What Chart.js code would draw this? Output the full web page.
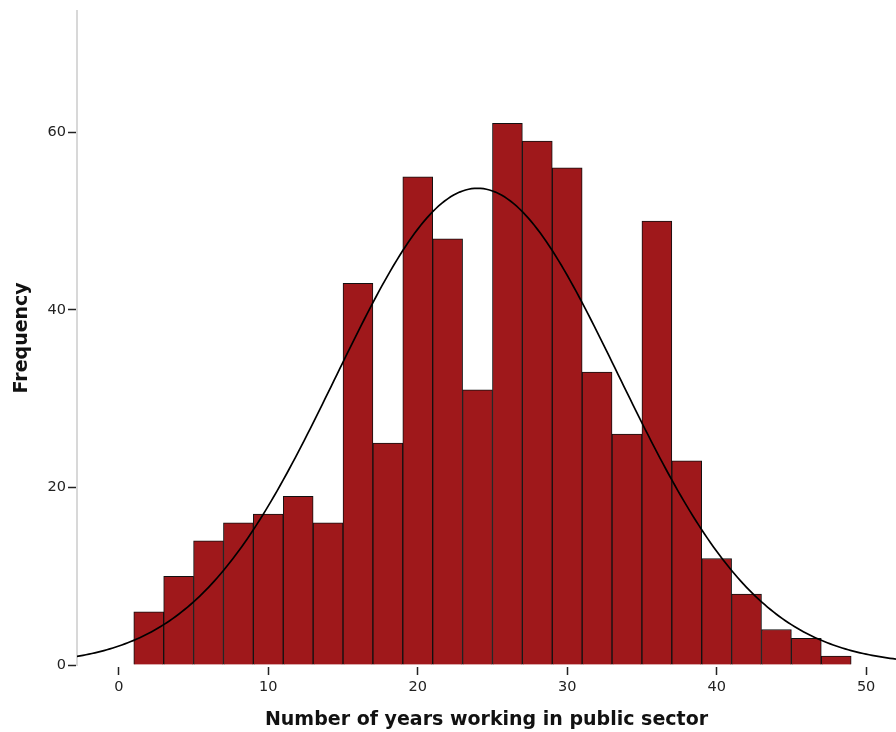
<!DOCTYPE html>
<html>
<head>
<meta charset="utf-8">
<script src="https://cdn.jsdelivr.net/npm/chart.js@4.4.1/dist/chart.umd.min.js"></script>
<style>
  html, body { margin: 0; padding: 0; background: #fff; }
  canvas { display: block; }
</style>
</head>
<body>
<canvas id="hist" width="896" height="732"></canvas>
<script>
// Histogram bins (2-year intervals), identified by their centre
const binCentres = [2, 4, 6, 8, 10, 12, 14, 16, 18, 20, 22, 24, 26, 28, 30, 32, 34, 36, 38, 40, 42, 44, 46, 48];
const binCounts  = [6, 10, 14, 16, 17, 19, 16, 43, 25, 55, 48, 31, 61, 59, 56, 33, 26, 50, 23, 12, 8, 4, 3, 1];
const binWidth = 2;

// Axis tick values
const xTicks = [0, 10, 20, 30, 40, 50];
const yTicks = [0, 20, 40, 60];

// Fitted normal distribution
const fitMean = 24.0;
const fitSD = 9.45;

const xMin = -2.8, xMax = 52;
const yMax = 73.7;

// Normal density scaled to the frequency of a bin
const total = binCounts.reduce((a, b) => a + b, 0);
const normalFreq = x =>
  total * binWidth / (fitSD * Math.sqrt(2 * Math.PI)) *
  Math.exp(-0.5 * Math.pow((x - fitMean) / fitSD, 2));

const curvePoints = [];
for (let x = xMin; x <= xMax + 1e-9; x += 0.2) {
  curvePoints.push({ x: x, y: normalFreq(x) });
}

const barPoints = binCentres.map((c, i) => ({ x: c, y: binCounts[i] }));

const tickFont = { family: 'DejaVu Sans', size: 14.5 };
const titleFont = { family: 'DejaVu Sans', size: 19, weight: 'bold' };

new Chart(document.getElementById('hist'), {
  type: 'bar',
  data: {
    datasets: [
      {
        type: 'line',
        data: curvePoints,
        borderColor: '#000',
        borderWidth: 1.7,
        pointRadius: 0,
        fill: false,
        tension: 0,
        order: 0
      },
      {
        type: 'bar',
        data: barPoints,
        backgroundColor: '#9f181b',
        borderColor: '#111',
        borderWidth: 1,
        barPercentage: 1,
        categoryPercentage: 1,
        order: 1
      }
    ]
  },
  options: {
    responsive: false,
    animation: false,
    devicePixelRatio: 1,
    layout: { padding: { top: 8, right: 0, bottom: 0, left: 0 } },
    plugins: {
      legend: { display: false },
      tooltip: { enabled: false }
    },
    scales: {
      x: {
        type: 'linear',
        min: xMin,
        max: xMax,
        offset: false,
        afterBuildTicks: s => { s.ticks = xTicks.map(v => ({ value: v })); },
        afterFit: s => { s.height = 67; },
        border: { display: false },
        grid: {
          offset: false,
          drawOnChartArea: false,
          drawTicks: true,
          tickLength: 10,
          tickColor: '#222',
          tickWidth: 1.5,
          tickBorderDash: [0, 2, 8, 10]
        },
        ticks: { padding: 4, color: '#222', font: tickFont, maxRotation: 0, autoSkip: false },
        title: {
          display: true,
          text: 'Number of years working in public sector',
          color: '#111',
          font: titleFont,
          padding: { top: 0, bottom: 1 }
        }
      },
      y: {
        min: 0,
        max: yMax,
        afterBuildTicks: s => { s.ticks = yTicks.map(v => ({ value: v })); },
        afterFit: s => { s.width = 77; },
        border: { display: true, color: '#d8d8d8', width: 2 },
        grid: {
          drawOnChartArea: false,
          drawTicks: true,
          tickLength: 9,
          tickColor: '#222',
          tickWidth: 1.5
        },
        ticks: { padding: 2, color: '#222', font: tickFont },
        title: {
          display: true,
          text: 'Frequency',
          color: '#111',
          font: titleFont,
          padding: { top: 11, bottom: 0 }
        }
      }
    }
  }
});
</script>
</body>
</html>
